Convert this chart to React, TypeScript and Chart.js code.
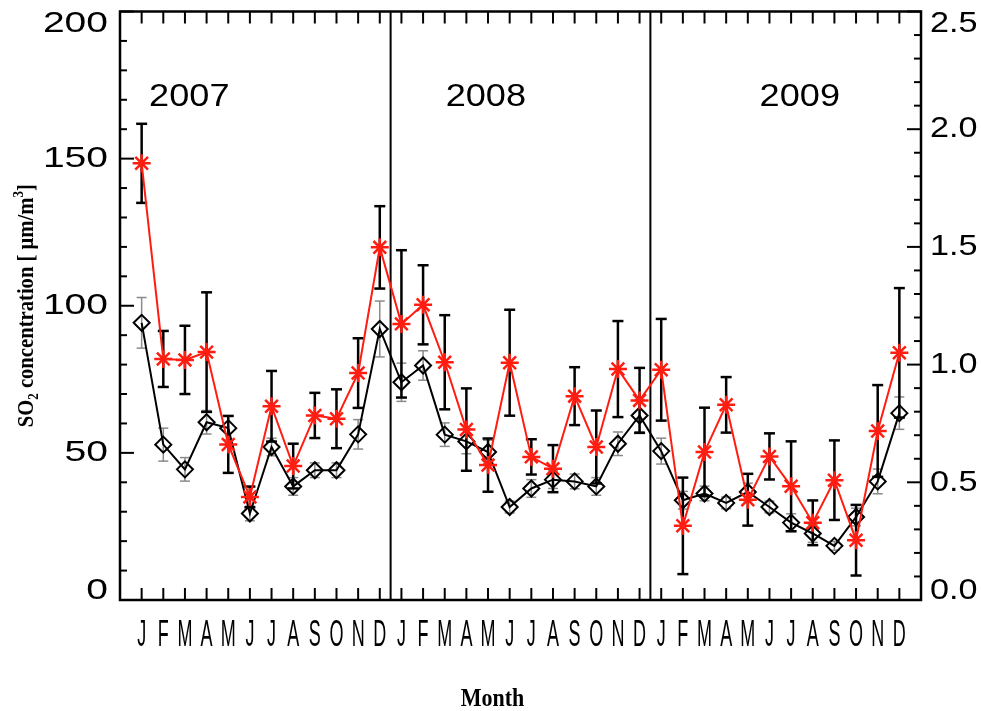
import { useEffect, useRef } from 'react';
import { Chart, registerables } from 'chart.js';

Chart.register(...registerables);

// Month initials repeated for each year on the time axis
const monthLetters = ['J', 'F', 'M', 'A', 'M', 'J', 'J', 'A', 'S', 'O', 'N', 'D'];
const years = ['2007', '2008', '2009'];
const yearLabelAt = [2.2, 15.9, 30.4];
const yearLabelLevel = 171;
const yearBreaks = [11.5, 23.5];

// Monthly SO2 concentration (left axis) with spread
const so2Mean = [
  94.2, 52.8, 44.4, 60.4, 58.4, 29.4, 52.0, 38.6, 44.1, 44.1, 56.3, 92.1,
  74.0, 79.7, 56.2, 53.9, 50.3, 31.6, 37.9, 40.9, 40.3, 38.6, 53.1, 62.7,
  50.6, 33.9, 36.2, 33.0, 36.7, 31.6, 26.3, 22.6, 18.4, 28.2, 40.3, 63.5,
];
const so2Err = [
  8.6, 5.6, 4.0, 4.0, 4.0, 2.5, 3.0, 3.0, 2.5, 2.5, 5.0, 9.5,
  6.5, 5.0, 4.0, 4.2, 4.0, 2.0, 3.0, 3.0, 2.5, 3.0, 4.0, 5.5,
  4.4, 3.0, 2.5, 2.0, 3.0, 2.0, 3.0, 3.0, 1.5, 3.0, 4.2, 5.5,
];

// Second monthly series (right axis) with spread
const ratioMean = [
  1.855, 1.024, 1.02, 1.053, 0.661, 0.438, 0.823, 0.569, 0.784, 0.77, 0.964, 1.498,
  1.173, 1.254, 1.01, 0.724, 0.573, 1.008, 0.608, 0.558, 0.866, 0.65, 0.981, 0.848,
  0.978, 0.315, 0.629, 0.829, 0.426, 0.61, 0.483, 0.328, 0.509, 0.254, 0.718, 1.05,
];
const ratioErr = [
  0.168, 0.119, 0.145, 0.254, 0.121, 0.044, 0.15, 0.095, 0.096, 0.125, 0.148, 0.175,
  0.313, 0.168, 0.2, 0.175, 0.113, 0.225, 0.075, 0.1, 0.123, 0.155, 0.204, 0.138,
  0.216, 0.205, 0.188, 0.118, 0.11, 0.098, 0.191, 0.095, 0.169, 0.15, 0.195, 0.275,
];

const leftTicks = [0, 50, 100, 150, 200];
const leftMinorStep = 10;
const rightTicks = [0, 0.5, 1.0, 1.5, 2.0, 2.5];
const rightMinorStep = 0.1;

const RED = 'rgb(255, 28, 16)';
const SANS = '"Liberation Sans", Arial, sans-serif';
const SERIF = '"Liberation Serif", "Times New Roman", serif';

const monthLabels = years.flatMap(() => monthLetters);

function line(ctx: CanvasRenderingContext2D, x0: number, y0: number, x1: number, y1: number) {
  ctx.beginPath();
  ctx.moveTo(x0, y0);
  ctx.lineTo(x1, y1);
  ctx.stroke();
}

// text drawn with a horizontal stretch factor (sx) around its anchor
function stretchedText(
  ctx: CanvasRenderingContext2D,
  text: string,
  x: number,
  y: number,
  sx: number,
  align: CanvasTextAlign,
) {
  ctx.save();
  ctx.translate(x, y);
  ctx.scale(sx, 1);
  ctx.textAlign = align;
  ctx.fillText(text, 0, 0);
  ctx.restore();
}

const decorPlugin = {
  id: 'so2Decor',
  beforeDatasetsDraw(chart: any) {
    const { ctx, chartArea: a, scales } = chart;
    const xs = scales.x;
    ctx.save();
    // year separators
    ctx.strokeStyle = '#000';
    ctx.lineWidth = 2;
    yearBreaks.forEach((b) => {
      const px = xs.getPixelForValue(b);
      line(ctx, px, a.top, px, a.bottom);
    });
    // error bars
    const bars = (means: number[], errs: number[], ys: any, color: string, width: number, cap: number) => {
      ctx.strokeStyle = color;
      ctx.lineWidth = width;
      means.forEach((m, i) => {
        const px = xs.getPixelForValue(i);
        const top = ys.getPixelForValue(m + errs[i]);
        const bot = ys.getPixelForValue(m - errs[i]);
        line(ctx, px, top, px, bot);
        line(ctx, px - cap, top, px + cap, top);
        line(ctx, px - cap, bot, px + cap, bot);
      });
    };
    bars(so2Mean, so2Err, scales.y, '#8a8a8a', 1.5, 5);
    bars(ratioMean, ratioErr, scales.y1, '#000', 2.5, 5.5);
    ctx.restore();
  },
  afterDraw(chart: any) {
    const { ctx, chartArea: a, scales } = chart;
    const xs = scales.x;
    const yl = scales.y;
    const yr = scales.y1;
    ctx.save();
    ctx.strokeStyle = '#000';
    ctx.fillStyle = '#000';

    // frame
    ctx.lineWidth = 2.5;
    ctx.strokeRect(a.left, a.top, a.right - a.left, a.bottom - a.top);

    // inward ticks
    ctx.lineWidth = 2;
    for (let v = 0; v <= 200 + 1e-6; v += leftMinorStep) {
      const py = yl.getPixelForValue(v);
      const len = leftTicks.includes(Math.round(v)) ? 14 : 7;
      line(ctx, a.left, py, a.left + len, py);
    }
    for (let k = 0; k <= 25; k++) {
      const v = k * rightMinorStep;
      const py = yr.getPixelForValue(v);
      const len = k % 5 === 0 ? 14 : 7;
      line(ctx, a.right, py, a.right - len, py);
    }
    monthLabels.forEach((_, i) => {
      const px = xs.getPixelForValue(i);
      line(ctx, px, a.bottom, px, a.bottom - 12);
      line(ctx, px, a.top, px, a.top + 12);
    });

    // tick labels
    const clampY = (py: number) => Math.min(Math.max(py, a.top + 12), a.bottom - 9);
    ctx.font = `30px ${SANS}`;
    ctx.textBaseline = 'middle';
    leftTicks.forEach((v) => {
      stretchedText(ctx, String(v), a.left - 12, clampY(yl.getPixelForValue(v)), 1.3, 'right');
    });
    rightTicks.forEach((v) => {
      stretchedText(ctx, v.toFixed(1), a.right + 9, clampY(yr.getPixelForValue(v)), 1.14, 'left');
    });

    // month letters, condensed
    ctx.font = `36px ${SANS}`;
    ctx.textBaseline = 'alphabetic';
    monthLabels.forEach((m, i) => {
      stretchedText(ctx, m, xs.getPixelForValue(i), a.bottom + 46, 0.5, 'center');
    });

    // year labels
    ctx.font = `32px ${SANS}`;
    ctx.textBaseline = 'middle';
    years.forEach((yStr, k) => {
      stretchedText(ctx, yStr, xs.getPixelForValue(yearLabelAt[k]), yl.getPixelForValue(yearLabelLevel), 1.13, 'center');
    });

    // axis titles
    ctx.font = `bold 25px ${SERIF}`;
    ctx.textBaseline = 'alphabetic';
    stretchedText(ctx, 'Month', (a.left + a.right) / 2 - 28, 706, 0.88, 'center');

    ctx.save();
    ctx.translate(33, (a.top + a.bottom) / 2);
    ctx.rotate(-Math.PI / 2);
    ctx.scale(0.86, 1);
    const big = `bold 24px ${SERIF}`;
    const small = `bold 15px ${SERIF}`;
    const parts: [string, string, number][] = [
      ['SO', big, 0],
      ['2', small, 5],
      [' concentration [ \u03bcm/m', big, 0],
      ['3', small, -10],
      [']', big, 0],
    ];
    let total = 0;
    parts.forEach(([t, f]) => {
      ctx.font = f;
      total += ctx.measureText(t).width;
    });
    let cx = -total / 2;
    ctx.textAlign = 'left';
    parts.forEach(([t, f, dy]) => {
      ctx.font = f;
      ctx.fillText(t, cx, dy);
      cx += ctx.measureText(t).width;
    });
    ctx.restore();

    ctx.restore();
  },
};

export default function App() {
  const canvasRef = useRef<HTMLCanvasElement | null>(null);

  useEffect(() => {
    document.body.style.margin = '0';
    const canvas = canvasRef.current;
    if (!canvas) return;
    const chart = new Chart(canvas, {
      type: 'line',
      data: {
        datasets: [
          {
            label: 'ratio',
            data: ratioMean.map((v, i) => ({ x: i, y: v })),
            yAxisID: 'y1',
            borderColor: RED,
            borderWidth: 2,
            pointStyle: 'star',
            pointRadius: 9,
            pointBorderColor: RED,
            pointBackgroundColor: RED,
            pointBorderWidth: 2.5,
            order: 0,
          },
          {
            label: 'SO2',
            data: so2Mean.map((v, i) => ({ x: i, y: v })),
            yAxisID: 'y',
            borderColor: '#000',
            borderWidth: 2,
            pointStyle: 'rectRot',
            pointRadius: 8,
            pointBorderColor: '#000',
            pointBackgroundColor: 'rgba(0,0,0,0)',
            pointBorderWidth: 2,
            order: 1,
          },
        ],
      },
      options: {
        responsive: false,
        animation: false,
        events: [],
        layout: { padding: { left: 120, right: 60, top: 10, bottom: 111 } },
        plugins: { legend: { display: false }, tooltip: { enabled: false } },
        elements: { line: { tension: 0 } },
        scales: {
          x: { type: 'linear', min: -1, max: 36, display: false },
          y: { type: 'linear', min: 0, max: 200, display: false },
          y1: { type: 'linear', position: 'right', min: 0, max: 2.5, display: false },
        },
      },
      plugins: [decorPlugin],
    });
    return () => chart.destroy();
  }, []);

  return (
    <div style={{ width: 981, height: 711, background: '#fff' }}>
      <canvas ref={canvasRef} width={981} height={711} />
    </div>
  );
}
